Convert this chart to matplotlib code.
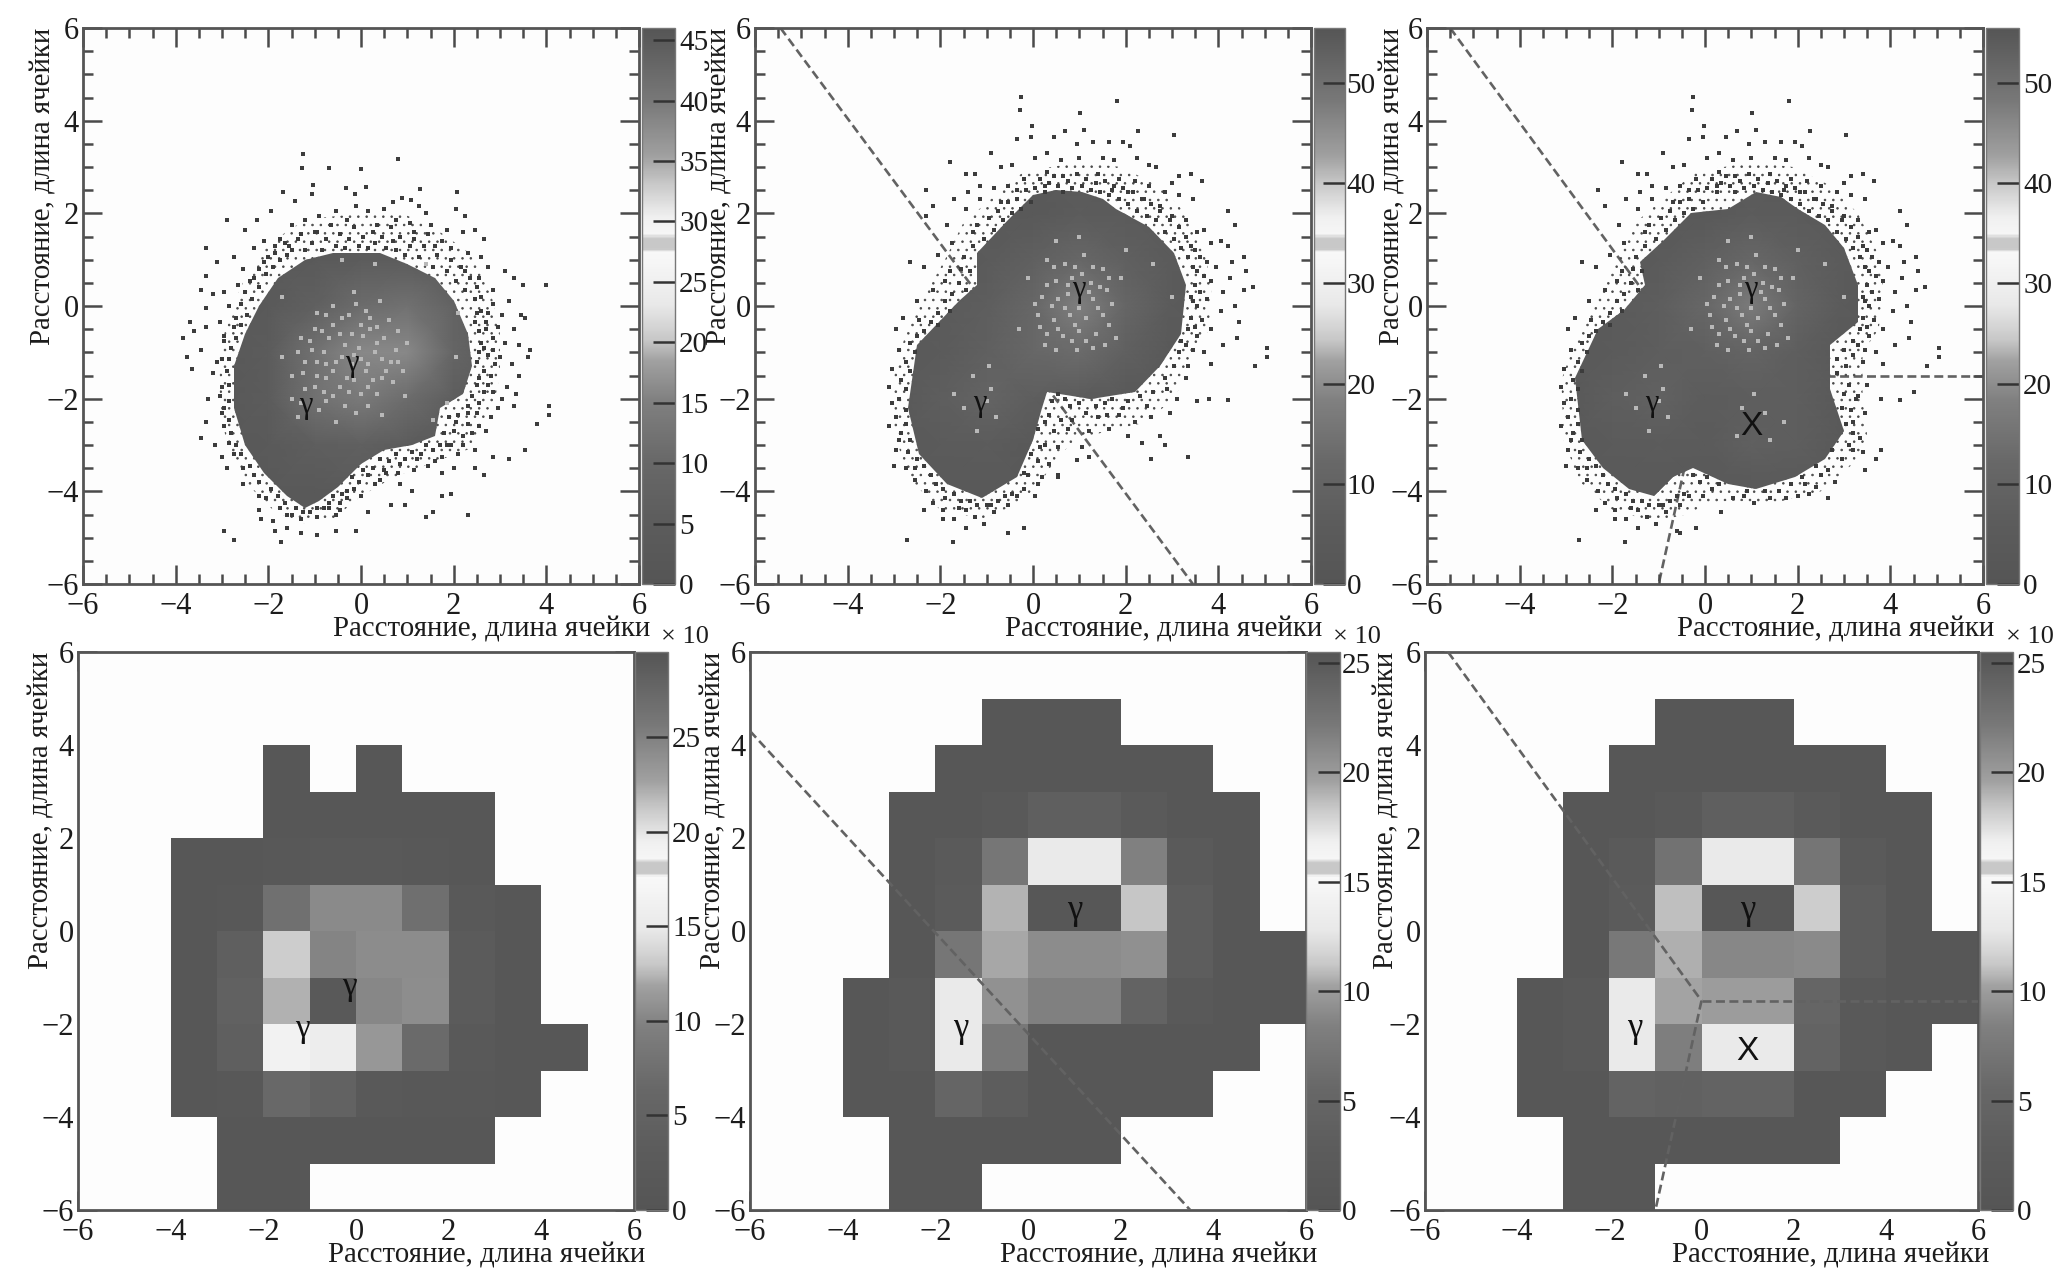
# coding=utf-8
import matplotlib
matplotlib.use("Agg")
import matplotlib.pyplot as plt
from matplotlib.colors import LinearSegmentedColormap
from matplotlib.patches import Polygon
import numpy as np

plt.rcParams['font.family'] = ['Liberation Serif', 'DejaVu Serif']
plt.rcParams['hatch.linewidth'] = 0.6

LABEL = "Расстояние, длина ячейки"

# gray levels of the colour bar
bar_pos = [0, .11, .22, .33, .40, .44, .50, .58, .598, .603, .622, .63, .66, .72, .77, .87, 1]
bar_gray = [0x55, 0x5c, 0x68, 0x80, 0xa0, 0xc8, 0xe8, 0xf6, 0xf8, 0xc8, 0xc8, 0xf6, 0xf0, 0xc8, 0xa0, 0x78, 0x55]
cmap = LinearSegmentedColormap.from_list(
    "bar", [(p, (g / 255, g / 255, g / 255)) for p, g in zip(bar_pos, bar_gray)], N=512)
cmap.set_bad('#fdfdfd')

# ---- top row: coarse tone of the dense part, nodes every 1 cell
tone_x = [-4, -3, -2, -1, 0, 1, 2, 3, 4]
tone_y = [3, 2, 1, 0, -1, -2, -3, -4, -5]
tone1 = [[3, 3, 3, 3, 3, 3, 3, 3, 3],
         [3, 3, 3, 3, 3, 3, 3, 3, 3],
         [3, 3, 3, 4, 5, 5, 4, 3, 3],
         [3, 3, 4, 7, 11, 12, 8, 4, 3],
         [3, 3, 5, 12, 16, 16, 9, 4, 3],
         [3, 3, 5, 12, 14, 11, 6, 3, 3],
         [3, 3, 4, 6, 7, 5, 3, 3, 3],
         [3, 3, 3, 3, 4, 4, 3, 3, 3],
         [3, 3, 3, 3, 3, 3, 3, 3, 3]]
tone2 = [[4, 4, 4, 4, 4, 4, 4, 4, 4],
         [4, 4, 4, 4, 4, 6, 5, 4, 4],
         [4, 4, 4, 5, 8, 12, 8, 5, 4],
         [4, 4, 5, 7, 12, 18, 11, 5, 4],
         [4, 4, 5, 8, 12, 13, 8, 4, 4],
         [4, 4, 7, 10, 7, 5, 4, 4, 4],
         [4, 4, 5, 6, 4, 4, 4, 4, 4],
         [4, 4, 4, 4, 4, 4, 4, 4, 4],
         [4, 4, 4, 4, 4, 4, 4, 4, 4]]
tone3 = [[4, 4, 4, 4, 4, 4, 4, 4, 4],
         [4, 4, 4, 4, 4, 6, 5, 4, 4],
         [4, 4, 4, 5, 8, 12, 8, 5, 4],
         [4, 4, 5, 7, 12, 17, 10, 5, 4],
         [4, 4, 5, 7, 8, 10, 7, 4, 4],
         [4, 4, 7, 9, 6, 7, 7, 4, 4],
         [4, 4, 5, 6, 5, 8, 7, 4, 4],
         [4, 4, 4, 4, 4, 4, 4, 4, 4],
         [4, 4, 4, 4, 4, 4, 4, 4, 4]]

# outline of the dense part
core1 = [(-0.6, 1.15), (0.4, 1.15), (1.0, 0.9), (1.6, 0.6), (2.0, 0.1), (2.3, -0.6), (2.4, -1.3), (2.2, -1.9),
         (1.7, -2.2), (1.6, -2.8), (1.1, -3.0), (0.5, -3.1), (0.0, -3.4), (-0.5, -3.9), (-0.9, -4.2), (-1.2, -4.35),
         (-1.6, -4.1), (-2.1, -3.6), (-2.5, -3.0), (-2.75, -2.2), (-2.75, -1.3), (-2.5, -0.6), (-2.2, 0.0),
         (-1.8, 0.6), (-1.2, 1.0)]
core2 = [(1.05, 2.45), (1.5, 2.3), (1.8, 2.1), (2.5, 1.7), (3.05, 1.15), (3.3, 0.45), (3.2, -0.6), (2.75, -1.3),
         (2.2, -1.85), (1.25, -2.0), (0.3, -1.85), (0.2, -2.2), (0.0, -2.9), (-0.35, -3.7), (-1.1, -4.15),
         (-1.85, -3.85), (-2.45, -3.2), (-2.7, -2.2), (-2.5, -0.85), (-1.6, 0.1), (-1.2, 0.45), (-1.2, 1.15),
         (-0.55, 1.85), (0.0, 2.4), (0.5, 2.5)]
core3 = [(1.1, 2.45), (1.65, 2.35), (2.0, 2.1), (2.6, 1.75), (3.0, 1.25), (3.3, 0.45), (3.3, -0.35), (2.7, -0.85),
         (2.7, -1.8), (3.0, -2.7), (2.6, -3.3), (1.95, -3.7), (1.1, -3.95), (0.5, -3.85), (-0.25, -3.5), (-0.7, -3.7),
         (-1.1, -4.1), (-1.65, -3.95), (-2.2, -3.5), (-2.65, -2.9), (-2.8, -1.55), (-2.3, -0.5), (-1.75, -0.08),
         (-1.3, 0.45), (-1.4, 0.95), (-0.9, 1.4), (-0.3, 2.0), (0.5, 2.1)]

# outline of the band of scattered bins around the dense part
band1 = [(-0.9, 1.9), (0.0, 2.0), (0.9, 2.0), (1.7, 1.6), (2.4, 1.1), (2.8, 0.3), (3.0, -0.6), (3.0, -1.5), (2.8, -2.4),
         (2.3, -3.1), (1.5, -3.4), (0.7, -3.7), (0.0, -4.1), (-0.6, -4.6), (-1.3, -4.7), (-1.9, -4.4), (-2.5, -3.8),
         (-2.9, -3.0), (-3.05, -2.0), (-3.05, -1.0), (-2.85, -0.2), (-2.55, 0.5), (-2.1, 1.2), (-1.5, 1.7)]
band2 = [(1.0, 3.1), (1.9, 3.0), (2.7, 2.6), (3.3, 2.0), (3.7, 1.2), (3.85, 0.4), (3.8, -0.5), (3.4, -1.2), (3.1, -1.9),
         (2.5, -2.5), (1.6, -2.7), (0.9, -2.9), (0.5, -3.3), (0.1, -3.9), (-0.4, -4.3), (-1.1, -4.6), (-2.0, -4.4),
         (-2.7, -3.7), (-3.0, -2.7), (-3.0, -1.5), (-2.75, -0.6), (-2.3, 0.3), (-1.9, 1.0), (-1.5, 1.8), (-0.8, 2.4), (-0.2, 2.9)]
band3 = [(1.0, 3.1), (1.9, 3.0), (2.7, 2.6), (3.3, 2.0), (3.7, 1.2), (3.85, 0.4), (3.75, -0.5), (3.4, -1.0), (3.4, -2.0),
         (3.5, -2.8), (3.2, -3.4), (2.5, -4.0), (1.5, -4.25), (0.5, -4.2), (0.0, -4.3), (-0.4, -4.5), (-1.1, -4.65),
         (-2.0, -4.4), (-2.7, -3.8), (-3.05, -2.9), (-3.1, -1.6), (-2.75, -0.6), (-2.3, 0.3), (-1.9, 1.0), (-1.5, 1.8), (-0.8, 2.4), (-0.2, 2.9)]

# single dark bins outside of the dense part
halo1 = [(-1.25, 3.27), (0.8, 3.18), (0.0, 2.95), (-1.28, 2.97), (-0.7, 2.97), (-1.03, 2.62), (-1.05, 2.42), (-0.33, 2.55),
         (-0.14, 2.42), (0.1, 2.57), (1.27, 2.53), (2.07, 2.46), (-1.68, 2.45), (-1.42, 2.27), (0.88, 2.33), (1.07, 2.29),
         (0.7, 2.25), (-0.1, 2.15), (0.15, 2.05), (0.5, 2.1), (1.25, 2.15), (1.4, 2.0), (2.05, 2.1), (2.25, 1.95), (-0.55, 2.05),
         (-0.9, 1.95), (-1.2, 1.85), (-1.5, 1.75), (-1.95, 2.05), (-2.25, 1.85), (-2.5, 1.65), (-2.9, 1.85), (-0.3, 1.85),
         (0.35, 1.75), (0.75, 1.85), (1.05, 1.8), (1.5, 1.75), (1.85, 1.65), (2.2, 1.6), (2.45, 1.65), (2.65, 1.45),
         (-1.0, 1.6), (-1.3, 1.55), (-1.75, 1.45), (-2.1, 1.4), (-2.3, 1.25), (-3.35, 1.25), (-3.1, 0.95), (-2.75, 1.05),
         (-2.55, 0.8), (-3.35, 0.65), (-3.45, 0.35), (-3.2, 0.25), (-2.95, 0.3), (-2.65, 0.45), (-2.4, 0.55), (-2.1, 0.95),
         (-1.85, 1.15), (-1.55, 1.3), (0.7, 1.4), (1.15, 1.45), (1.6, 1.3), (1.95, 1.25), (2.3, 1.15), (2.6, 1.05), (2.75, 0.85),
         (3.1, 0.75), (3.3, 0.6), (3.5, 0.45), (2.55, 0.6), (2.85, 0.35), (2.25, 0.75), (2.6, 0.2), (2.85, 0.05), (3.2, 0.1),
         (3.45, -0.2), (3.55, -0.25), (3.05, -0.2), (2.7, -0.35), (2.5, -0.15), (3.3, -0.5), (3.4, -0.85), (3.65, -0.95),
         (3.6, -1.1), (3.1, -0.8), (2.85, -0.7), (2.65, -0.9), (2.5, -1.2), (2.9, -1.25), (3.25, -1.25), (3.4, -1.5),
         (3.15, -1.75), (3.35, -1.9), (3.05, -2.0), (2.75, -1.7), (2.55, -1.55), (2.95, -2.2), (3.3, -2.15), (2.8, -2.4), (2.55, -2.1),
         (2.3, -2.3), (2.05, -2.5), (2.7, -2.7), (2.4, -2.75), (2.2, -3.0), (2.45, -3.1), (1.85, -3.0), (1.75, -3.25),
         (2.0, -3.5), (2.45, -3.5), (3.2, -3.3), (3.55, -3.1), (2.85, -3.25), (2.65, -3.65), (3.8, -2.55), (4.05, -2.15), (4.05, -2.35),
         (4.0, 0.45), (1.75, -3.6), (1.45, -3.45), (1.2, -3.3), (0.85, -3.4), (0.55, -3.6), (0.3, -3.85), (0.85, -3.85),
         (1.1, -4.0), (1.75, -4.1), (1.95, -4.05), (1.55, -4.45), (2.3, -4.5), (1.4, -4.55), (0.95, -4.3), (0.65, -4.3),
         (0.15, -4.45), (0.0, -4.1), (-0.3, -4.15), (-0.45, -4.4), (-0.7, -4.35), (-0.95, -4.55), (-1.3, -4.6), (-1.6, -4.5),
         (-2.2, -4.4), (-1.9, -4.65), (-1.85, -4.85), (-1.6, -4.8), (-1.3, -4.9), (-0.95, -4.95), (-0.55, -4.85), (-0.1, -4.85),
         (-2.95, -4.85), (-2.75, -5.05), (-1.73, -5.1), (-2.2, -4.1), (-2.55, -3.85), (-2.15, -4.6), (-2.9, -3.5), (-3.0, -3.25),
         (-3.15, -3.0), (-3.45, -2.85), (-3.35, -2.5), (-3.0, -2.3), (-2.95, -2.6), (-2.85, -2.95), (-3.3, -2.0), (-3.05, -1.95),
         (-3.75, -1.1), (-3.65, -1.35), (-3.45, -0.95), (-3.2, -1.45), (-3.0, -1.15), (-2.95, -0.75), (-3.6, -0.55), (-3.35, -0.45),
         (-3.05, -0.35), (-3.85, -0.7), (-3.7, -0.35), (-2.85, 0.0), (-2.7, -0.25), (-3.35, -0.05)]
rim1 = [(-1.5, 1.2), (-1.35, 1.45), (-1.2, 1.2), (-1.05, 1.35), (-0.95, 1.6), (-0.85, 1.2), (-0.75, 1.45), (-0.65, 1.75), (-0.55, 1.3),
        (-0.45, 1.55), (-0.35, 1.25), (-0.25, 1.45), (-0.15, 1.7), (-0.05, 1.3), (0.05, 1.5), (0.15, 1.25), (0.25, 1.6), (0.3, 1.35),
        (0.45, 1.5), (0.55, 1.25), (0.65, 1.7), (0.75, 1.2), (0.85, 1.5), (0.95, 1.1), (1.05, 1.3), (1.15, 1.6), (1.25, 1.05), (1.35, 1.3),
        (1.45, 1.55), (1.55, 0.85), (1.65, 1.1), (1.75, 1.4), (1.85, 0.75), (1.95, 1.0), (2.05, 0.55), (2.15, 0.85), (2.25, 0.35), (2.35, 0.6),
        (2.45, 0.15), (2.5, 0.4), (2.45, -0.35), (2.55, -0.55), (2.6, -0.1), (2.7, -0.5), (2.75, -0.15), (2.6, -0.8), (2.75, -1.05), (2.55, -1.0),
        (2.85, -0.95), (2.95, -0.45), (3.0, -1.1), (2.65, -1.4), (2.8, -1.5), (2.5, -1.7), (2.65, -1.85), (2.85, -1.85), (2.4, -1.95),
        (2.3, -2.15), (2.5, -2.3), (2.1, -2.35), (2.3, -2.55), (2.55, -2.6), (1.9, -2.4), (2.0, -2.7), (2.2, -2.8), (1.8, -2.75), (1.95, -3.0),
        (2.1, -3.2), (1.7, -3.0), (1.55, -3.1), (1.4, -3.0), (1.6, -3.35), (1.3, -3.2), (1.1, -3.15), (0.95, -3.3), (1.15, -3.55), (0.75, -3.2),
        (0.6, -3.35), (0.8, -3.6), (0.4, -3.3), (0.5, -3.55), (0.25, -3.5), (0.4, -3.75), (0.15, -3.65), (0.05, -3.55), (-0.05, -3.8),
        (-0.2, -3.7), (-0.15, -3.95), (-0.3, -4.0), (-0.4, -4.05), (-0.45, -4.25), (-0.6, -4.1), (-0.7, -4.25), (-0.55, -4.5), (-0.8, -4.35),
        (-0.95, -4.35), (-1.1, -4.45), (-1.25, -4.45), (-1.4, -4.35), (-1.5, -4.5), (-1.65, -4.25), (-1.8, -4.1), (-1.75, -4.35), (-1.95, -3.95),
        (-2.05, -4.15), (-2.2, -3.8), (-2.3, -3.65), (-2.4, -3.45), (-2.55, -3.5), (-2.6, -3.2), (-2.7, -3.0), (-2.75, -3.2), (-2.8, -2.75),
        (-2.85, -2.45), (-2.95, -2.2), (-2.85, -2.05), (-3.0, -1.75), (-2.85, -1.7), (-2.9, -1.4), (-3.1, -1.2), (-2.85, -1.15), (-2.8, -0.9),
        (-2.95, -0.65), (-2.7, -0.7), (-2.6, -0.4), (-2.75, -0.45), (-2.45, -0.2), (-2.6, 0.05), (-2.35, 0.15), (-2.5, 0.3), (-2.2, 0.4),
        (-2.3, 0.6), (-2.05, 0.7), (-2.2, 0.8), (-1.9, 0.85), (-2.0, 1.05), (-1.75, 1.0), (-1.85, 1.3), (-1.6, 1.1), (-1.65, 1.35)]
halo_shared = [(-0.25, 4.52), (1.82, 4.43), (-0.27, 4.22), (1.02, 4.17), (-0.03, 3.88), (2.27, 3.78), (-0.05, 3.65), (-0.35, 3.6),
               (0.45, 3.65), (0.7, 3.78), (1.1, 3.8), (1.3, 3.55), (1.65, 3.55), (1.95, 3.55), (3.05, 3.7), (0.95, 3.5), (2.1, 3.45),
               (0.3, 3.3), (0.05, 3.2), (-0.9, 3.3), (-0.45, 3.05), (-0.7, 3.0), (-1.25, 2.85), (-1.45, 2.85), (-1.8, 3.1), (0.6, 3.15),
               (1.0, 3.2), (1.5, 3.2), (1.75, 3.15), (2.25, 3.2), (2.5, 3.05), (2.65, 3.0), (3.4, 2.85), (3.65, 2.7), (3.15, 2.8), (3.0, 2.65),
               (-0.2, 2.75), (0.3, 2.9), (0.65, 2.8), (1.4, 2.85), (1.85, 2.75), (2.2, 2.7), (2.5, 2.6), (2.85, 2.45), (3.15, 2.4), (3.45, 2.3),
               (-0.55, 2.6), (-0.85, 2.55), (-1.15, 2.6), (-1.4, 2.45), (-1.7, 2.3), (-2.3, 2.5), (-2.15, 2.15), (-1.85, 1.75),
               (-1.45, 2.1), (-1.15, 2.3), (-0.7, 2.25), (-0.35, 2.5), (0.25, 2.6), (1.7, 2.5), (2.05, 2.45), (2.4, 2.3), (2.75, 2.15),
               (3.0, 1.95), (3.3, 1.85), (3.55, 1.6), (3.85, 1.35), (4.2, 2.05), (4.35, 1.75), (4.2, 1.3), (4.05, 1.4), (3.7, 1.65),
               (3.4, 1.3), (3.6, 1.05), (4.55, 1.05), (4.3, 0.95), (3.95, 0.85), (4.6, 0.75), (4.25, 0.6), (3.85, 0.55), (3.55, 0.75), (4.75, 0.4),
               (4.55, 0.35), (4.1, 0.3), (3.75, 0.15), (3.45, 0.1), (4.35, 0.0), (4.05, -0.1), (3.65, -0.3), (4.45, -0.35), (4.4, -0.7),
               (4.1, -0.85), (3.85, -0.5), (3.55, -0.65), (3.3, -0.85), (5.05, -0.9), (5.05, -1.1), (4.8, -1.3), (3.7, -1.0), (3.85, -1.25),
               (-1.75, 1.35), (-2.05, 1.1), (-2.65, 0.95), (-2.35, 0.85), (-1.9, 0.55), (-1.55, 0.8), (-2.15, 0.35), (-2.5, 0.1),
               (-2.8, -0.25), (-2.45, -0.3), (-2.95, -0.5), (-2.9, -0.95), (-3.05, -1.35), (-3.1, -1.75), (-3.05, -2.1), (-3.1, -2.6),
               (-2.9, -2.9), (-2.95, -3.1), (-3.0, -3.45), (-2.75, -3.5), (-2.55, -3.75), (-2.3, -4.0), (-2.15, -4.25), (-2.35, -4.4),
               (-1.95, -4.4), (-1.7, -4.6), (-1.95, -4.6), (-1.45, -4.4), (-1.25, -4.55), (-1.05, -4.7), (-0.85, -4.45), (-0.55, -4.3),
               (-0.55, -4.9), (-0.2, -4.8), (-1.45, -4.8), (-2.73, -5.05), (-1.73, -5.1), (-1.6, -4.35), (-0.9, -4.3), (-0.35, -4.1)]
rim_shared = [(-0.95, 1.9), (-0.85, 1.65), (-0.75, 2.05), (-0.65, 1.85), (-0.55, 2.25), (-0.45, 2.0), (-0.35, 2.3), (-0.25, 2.1), (-0.15, 2.5),
              (-0.05, 2.25), (0.05, 2.55), (0.15, 2.75), (0.25, 2.45), (0.35, 2.65), (0.45, 2.8), (0.55, 2.6), (0.65, 2.45), (0.75, 2.7), (0.85, 2.55),
              (0.95, 2.85), (1.05, 2.6), (1.15, 2.75), (1.25, 2.5), (1.35, 2.65), (1.45, 2.45), (1.55, 2.7), (1.65, 2.4), (1.75, 2.6), (1.85, 2.3),
              (1.95, 2.55), (2.05, 2.2), (2.15, 2.45), (2.25, 2.05), (2.35, 2.3), (2.45, 1.95), (2.55, 2.2), (2.65, 1.85), (2.75, 2.05), (2.85, 1.6),
              (2.95, 1.85), (3.05, 1.45), (3.15, 1.7), (3.2, 1.25), (3.3, 1.5), (3.35, 1.05), (3.45, 0.85), (3.5, 0.45), (3.4, 0.2), (3.55, 0.0),
              (3.4, -0.25), (3.6, 0.3), (3.7, 0.65), (3.75, 0.95), (3.5, 1.2), (3.35, -0.5), (3.5, -0.45), (3.2, -0.75), (3.45, -0.95),
              (-1.3, 1.3), (-1.5, 1.05), (-1.35, 0.75), (-1.6, 0.5), (-1.45, 0.35), (-1.75, 0.25), (-1.9, 0.1), (-1.8, -0.1), (-2.05, -0.15),
              (-2.2, -0.35), (-2.05, -0.4), (-2.35, -0.55), (-2.5, -0.65), (-2.65, -0.8), (-2.55, -1.0), (-2.75, -1.2), (-2.65, -1.4), (-2.85, -1.6),
              (-2.75, -1.8), (-2.9, -2.0), (-2.75, -2.25), (-2.95, -2.4), (-2.75, -2.55), (-2.85, -2.75), (-2.65, -2.9), (-2.7, -3.15), (-2.5, -3.3),
              (-2.55, -3.5), (-2.35, -3.45), (-2.2, -3.65), (-2.1, -3.85), (-1.95, -3.95), (-1.9, -4.15), (-1.7, -4.05), (-1.55, -4.2), (-1.35, -4.2),
              (-1.2, -4.3), (-1.0, -4.3), (-0.75, -4.2), (-0.6, -4.1), (-0.45, -4.05), (-1.8, 0.75), (-1.2, 1.75), (-1.05, 1.45), (-1.3, 1.6)]
halo2 = [(-2.3, 1.95), (0.55, -1.9), (0.8, -2.15), (1.15, -2.3), (1.55, -2.1), (2.05, -2.05), (2.45, -2.15), (2.9, -1.8), (3.3, -1.55),
         (3.35, -1.3), (4.2, -2.03), (3.8, -2.0), (3.55, -2.05), (3.1, -2.0), (2.55, -2.4), (2.2, -2.5), (1.85, -2.35), (1.4, -2.4),
         (0.85, -2.45), (0.35, -2.35), (0.1, -2.65), (0.45, -2.7), (0.75, -2.65), (1.2, -2.7), (1.65, -2.65), (2.05, -2.8), (2.75, -2.8),
         (2.35, -2.95), (0.25, -3.0), (0.55, -3.05), (1.05, -3.05), (2.85, -3.0), (2.55, -3.3), (3.35, -3.25), (0.95, -3.32),
         (1.2, -3.25), (0.1, -3.35), (0.2, -3.7), (0.55, -3.7), (-0.2, -3.95), (0.05, -4.1), (0.1, -3.85), (0.55, -3.65), (-0.1, -3.65),
         (0.4, -2.05), (0.7, -2.0), (1.0, -2.1), (1.35, -2.15), (1.7, -2.0), (1.95, -2.2), (2.3, -1.95), (2.6, -1.85), (2.85, -1.55),
         (3.05, -1.3), (3.15, -1.0), (2.95, -2.3), (0.25, -2.5), (0.15, -3.05), (0.35, -3.4), (-0.05, -3.2), (-0.2, -3.6), (0.6, -2.45), (1.6, -2.35)]
halo3 = [(3.5, -1.7), (3.8, -2.0), (4.2, -2.03), (4.5, -1.85), (3.3, -1.95), (3.45, -2.3), (3.2, -2.5), (3.35, -2.85), (3.2, -3.1),
         (3.4, -3.15), (3.8, -3.1), (3.7, -3.3), (3.45, -3.55), (3.1, -3.0), (2.95, -3.3), (2.65, -3.55), (2.8, -3.8), (2.5, -3.65), (2.15, -3.85),
         (2.0, -4.1), (2.25, -4.05), (2.65, -4.15), (1.6, -4.0), (1.75, -4.15), (1.05, -4.25), (0.6, -4.15), (0.35, -4.45), (0.15, -3.95),
         (0.85, -4.1), (-0.1, -3.8), (-0.05, -4.1), (-0.55, -4.9), (-0.6, -4.85), (3.05, -1.3), (3.2, -1.05), (3.0, -0.95), (2.85, -1.15),
         (3.4, -1.2), (3.1, -1.7), (1.4, -4.15), (2.4, -3.9), (3.25, -2.0), (2.85, -1.45), (3.0, -1.9), (2.95, -2.2), (3.15, -2.25), (3.05, -2.55),
         (3.2, -2.75), (2.75, -3.1), (2.4, -3.45), (2.1, -3.7), (1.85, -3.85), (1.3, -4.0), (0.9, -4.0), (0.3, -3.85), (0.05, -3.7), (-0.25, -3.65)]

# light bins inside of the dense part
speck1 = [(-1.3, -0.7), (-1.0, -0.5), (-0.6, -0.4), (-0.2, -0.6), (0.2, -0.5), (0.5, -0.7), (-1.2, -1.2), (-0.8, -1.0), (-0.4, -1.1), (-0.05, -0.9),
          (0.3, -1.0), (0.65, -1.2), (-1.5, -1.5), (-0.95, -1.5), (-0.6, -1.4), (-0.3, -1.55), (0.1, -1.4), (0.45, -1.55), (0.9, -1.4), (-1.2, -1.8),
          (-0.8, -1.85), (-0.45, -1.75), (0.0, -1.9), (-1.5, -2.0), (0.35, -1.9), (-0.25, -0.2), (0.1, -0.1), (-0.6, 0.0), (-0.95, -0.15), (0.4, 0.1),
          (-0.15, 0.3), (0.6, -0.3), (1.0, -0.8), (-1.7, -1.1), (-1.35, -2.4), (-0.9, -2.25), (-0.55, -2.5), (-0.1, -2.3), (0.45, -2.35), (0.95, -1.95),
          (-0.2, -1.25), (0.2, -0.25), (-0.7, -0.7), (-1.05, -0.95), (0.8, -0.55), (-0.35, -0.85), (0.0, -1.15), (-0.75, -1.25), (-1.35, -1.0), (0.55, -1.4),
          (1.4, 0.9), (2.05, -1.1), (1.85, -2.1), (1.55, -2.45), (-0.4, 1.0), (0.3, 0.9), (-1.7, 0.2), (2.1, -0.15),
          (-1.1, -0.75), (-0.85, -0.55), (-0.45, -0.6), (0.05, -0.65), (0.35, -0.8), (0.75, -0.95), (-0.95, -1.2), (-0.55, -1.2), (-0.15, -1.05), (0.15, -1.25),
          (0.45, -1.15), (0.8, -1.2), (-1.25, -1.45), (-0.75, -1.55), (-0.15, -1.6), (0.25, -1.6), (0.7, -1.65), (-1.0, -1.75), (-0.6, -1.95), (-0.25, -1.85),
          (0.15, -1.75), (-1.3, -2.1), (-0.75, -2.05), (-0.35, -2.15), (0.15, -2.15), (0.0, -0.4), (-0.4, -0.25), (0.35, -0.45), (-0.75, -0.2), (-0.1, 0.05)]
speck2 = [(0.3, 1.0), (0.7, 0.9), (1.1, 1.1), (1.5, 0.8), (0.5, 0.55), (0.85, 0.6), (1.25, 0.5), (1.6, 0.35), (0.2, 0.2), (0.55, 0.15), (1.3, 0.15), (1.7, 0.05),
          (0.1, -0.2), (0.45, -0.3), (0.8, -0.2), (1.15, -0.25), (1.5, -0.2), (0.3, -0.6), (0.65, -0.65), (1.0, -0.55), (1.35, -0.6), (0.5, -0.95), (0.95, -0.95),
          (1.3, -0.9), (0.75, 0.25), (1.05, 0.7), (0.9, -0.4), (1.9, 0.6), (-0.1, 0.6), (1.0, 1.5), (0.5, 1.4), (2.0, 1.2), (2.6, 0.9), (3.0, 0.2), (-0.3, -0.5), (1.8, -0.7),
          (0.45, 0.85), (0.9, 0.85), (1.3, 0.85), (1.65, 0.6), (0.3, 0.45), (1.45, 0.4), (0.4, 0.0), (0.7, -0.05), (1.0, -0.05), (1.4, -0.05), (1.65, -0.4), (0.15, -0.45),
          (0.55, -0.5), (0.85, -0.75), (1.15, -0.75), (0.75, 0.45), (1.2, 0.3), (0.05, 0.05), (0.25, -0.85), (1.55, -0.85)]
speck_shared = [(-1.3, -1.5), (-0.9, -1.8), (-1.5, -2.2), (-0.8, -2.4), (-1.2, -2.7), (-1.7, -1.9), (-0.95, -1.3), (-1.0, -2.05)]
speck3 = [(0.8, -2.2), (1.3, -2.3), (0.7, -2.8), (1.4, -2.9), (1.05, -1.9), (1.7, -2.5)]

# ---- bottom row: counts in cells of one unit, rows from y=5..6 down to y=-6..-5, columns from x=-6..-5
grid4 = [[0, 0, 0, 0, 0, 0, 0, 0, 0, 0, 0, 0],
         [0, 0, 0, 0, 0, 0, 0, 0, 0, 0, 0, 0],
         [0, 0, 0, 0, 1, 0, 1, 0, 0, 0, 0, 0],
         [0, 0, 0, 0, 1, 1, 1, 1, 1, 0, 0, 0],
         [0, 0, 1, 1, 1.5, 2, 2, 1.5, 1, 0, 0, 0],
         [0, 0, 1, 1.5, 7.6, 10.4, 10.4, 7.4, 2, 1, 0, 0],
         [0, 0, 1, 4, 13.3, 10, 10.5, 10.5, 3, 1, 0, 0],
         [0, 0, 1, 4.5, 12.3, 29, 10.2, 10.6, 3, 1, 0, 0],
         [0, 0, 1, 4, 16.5, 15.5, 11.2, 6.8, 2, 1, 1, 0],
         [0, 0, 1, 1.5, 6.5, 5, 2, 1.5, 1.5, 1, 0, 0],
         [0, 0, 0, 1, 1, 1, 1, 1, 1, 0, 0, 0],
         [0, 0, 0, 1, 1, 0, 0, 0, 0, 0, 0, 0]]
grid5 = [[0, 0, 0, 0, 0, 0, 0, 0, 0, 0, 0, 0],
         [0, 0, 0, 0, 0, 1, 1, 1, 0, 0, 0, 0],
         [0, 0, 0, 0, 1, 1, 1, 1, 1, 1, 0, 0],
         [0, 0, 0, 1, 1, 1.8, 3.5, 3.5, 2, 1, 1, 0],
         [0, 0, 0, 1, 2, 7.3, 13, 13, 8.4, 2, 1, 0],
         [0, 0, 0, 1, 2.5, 10.7, 25.3, 25.3, 11.2, 3, 1, 0],
         [0, 0, 0, 1, 7.3, 10.4, 9.1, 9.1, 9.3, 3, 1, 1],
         [0, 0, 1, 1.5, 13, 9.4, 8.4, 8.4, 4.5, 1.5, 1, 1],
         [0, 0, 1, 1.5, 13, 7.5, 1, 1, 1, 1, 1, 0],
         [0, 0, 1, 1, 5, 3, 1, 1, 1, 1, 0, 0],
         [0, 0, 0, 1, 1, 1, 1, 1, 0, 0, 0, 0],
         [0, 0, 0, 1, 1, 0, 0, 0, 0, 0, 0, 0]]
grid6 = [[0, 0, 0, 0, 0, 0, 0, 0, 0, 0, 0, 0],
         [0, 0, 0, 0, 0, 1, 1, 1, 0, 0, 0, 0],
         [0, 0, 0, 0, 1, 1, 1, 1, 1, 1, 0, 0],
         [0, 0, 0, 1, 1, 1.8, 3.5, 3.5, 2, 1, 1, 0],
         [0, 0, 0, 1, 2, 6.8, 13, 13, 7.2, 2, 1, 0],
         [0, 0, 0, 1, 2.5, 11, 25.3, 25.3, 11.5, 3, 1, 0],
         [0, 0, 0, 1, 7.5, 10.6, 8.8, 8.8, 9, 3, 1, 1],
         [0, 0, 1, 1.5, 13, 10.3, 10, 10, 5, 1.5, 1, 1],
         [0, 0, 1, 1.5, 13, 8.2, 13, 13, 4.5, 1.5, 1, 0],
         [0, 0, 1, 1, 4.5, 4, 4.5, 4.5, 1, 1, 0, 0],
         [0, 0, 0, 1, 1, 1, 1, 1, 1, 0, 0, 0],
         [0, 0, 0, 1, 1, 0, 0, 0, 0, 0, 0, 0]]

# dashed borders
border2_x, border2_y = [-5.45, 3.45], [6, -6]
border3 = [[(-5.5, 6), (0, -1.5)], [(0, -1.5), (6, -1.5)], [(0, -1.5), (-1, -6)]]
border5_x, border5_y = [-6, 3.5], [4.3, -6]

W, H = 2067, 1276
fig = plt.figure(figsize=(W / 100, H / 100), dpi=100, facecolor='white')
DARK = '#4a4a4a'
TEXT = '#1c1c1c'


def make_axes(left, right, top, bottom, bar_left, bar_right, ylabel_x):
    ax = fig.add_axes([left / W, 1 - bottom / H, (right - left) / W, (bottom - top) / H])
    cax = fig.add_axes([bar_left / W, 1 - bottom / H, (bar_right - bar_left) / W, (bottom - top) / H])
    ax.set_facecolor('#fdfdfd')
    ax.set_xlim(-6, 6)
    ax.set_ylim(-6, 6)
    ax.set_xticks(range(-6, 7, 2))
    ax.set_yticks(range(-6, 7, 2))
    ax.set_xticks(np.arange(-6, 6.1, 0.5), minor=True)
    ax.set_yticks(np.arange(-6, 6.1, 0.5), minor=True)
    ax.tick_params(which='major', direction='in', length=14, width=1.8, color=DARK, top=True, right=True,
                   labelsize=22, labelcolor=TEXT, pad=6)
    ax.tick_params(axis='y', which='major', pad=3)
    ax.tick_params(which='minor', direction='in', length=7, width=1.8, color=DARK, top=True, right=True)
    for s in ax.spines.values():
        s.set_linewidth(2)
        s.set_color('#555555')
    ax.set_xlabel(LABEL, fontsize=20.8, color=TEXT)
    ax.set_ylabel(LABEL, fontsize=20.8, color=TEXT, y=1.0, ha='right')
    ax.xaxis.set_label_coords(1.02, -0.082)
    ax.xaxis.label.set_ha('right')
    ax.xaxis.label.set_va('center')
    ax.yaxis.set_label_coords(ylabel_x, 1.0)
    ax.yaxis.label.set_va('center')
    return ax, cax


def finish_bar(mesh, cax, bar_ticks, bar_pad):
    cb = fig.colorbar(mesh, cax=cax)
    cb.set_ticks(bar_ticks)
    cb.outline.set_edgecolor('#777777')
    cb.outline.set_linewidth(1)
    cax.tick_params(direction='in', length=16, width=1.8, color='#333333', labelsize=21, labelcolor=TEXT, pad=bar_pad)


def top_panel(rect, tone, core, band, halos, specks, vmax, bar_ticks, bar_pad):
    ax, cax = make_axes(*rect)
    ax.add_patch(Polygon(band, closed=True, facecolor='none', edgecolor='#4a4a4a', hatch='..', linewidth=0, zorder=1.5))
    mesh = ax.pcolormesh(tone_x, tone_y, tone, shading='gouraud', cmap=cmap, vmin=0, vmax=vmax, zorder=2)
    outline = Polygon(core, closed=True, transform=ax.transData)
    mesh.set_clip_path(outline)
    hx = [p[0] for p in halos]
    hy = [p[1] for p in halos]
    ax.scatter(hx, hy, marker='s', s=8, color='#3c3c3c', linewidths=0, zorder=3)
    sx = [p[0] for p in specks]
    sy = [p[1] for p in specks]
    ax.scatter(sx, sy, marker='s', s=6, color='#b8b8b8', linewidths=0, zorder=3)
    finish_bar(mesh, cax, bar_ticks, bar_pad)
    return ax


def bottom_panel(rect, grid, vmax, bar_ticks, bar_pad):
    ax, cax = make_axes(*rect)
    edges = np.arange(-6, 7)
    values = np.ma.masked_equal(np.array(grid)[::-1], 0)
    mesh = ax.pcolormesh(edges, edges, values, cmap=cmap, vmin=0, vmax=vmax, zorder=2)
    finish_bar(mesh, cax, bar_ticks, bar_pad)
    cax.text(0.78, 1.026, '× 10', transform=cax.transAxes, ha='left', va='center', fontsize=19, color=TEXT)
    return ax


def gamma(ax, x, y, size=25):
    ax.text(x, y, 'γ', fontsize=size, ha='center', va='center', color='#111111', zorder=6)


def cross(ax, x, y):
    ax.text(x, y, 'X', fontsize=24, ha='center', va='center', color='#111111', zorder=6, family='Liberation Sans')


def dashed(ax, xs, ys, z=5):
    ax.plot(xs, ys, ls=(0, (3.4, 1.7)), lw=1.9, color='#626262', zorder=z)


ax1 = top_panel((83, 639, 28, 584, 642, 675, -0.071), tone1, core1, band1, halo1 + rim1, speck1, 46, range(0, 46, 5), 3)
gamma(ax1, -1.2, -2.15, 22)
gamma(ax1, -0.2, -1.25, 22)

ax2 = top_panel((755, 1311, 28, 584, 1314, 1345, -0.064), tone2, core2, band2, halo_shared + rim_shared + halo2,
                speck2 + speck_shared, 55.5, range(0, 51, 10), 1)
dashed(ax2, border2_x, border2_y, z=1)
gamma(ax2, -1.15, -2.1, 22)
gamma(ax2, 1.0, 0.35, 22)

ax3 = top_panel((1427, 1983, 28, 584, 1986, 2019, -0.062), tone3, core3, band3, halo_shared + rim_shared + halo3,
                speck2 + speck_shared + speck3, 55.5, range(0, 51, 10), 3)
for seg in border3:
    dashed(ax3, [seg[0][0], seg[1][0]], [seg[0][1], seg[1][1]], z=1)
gamma(ax3, -1.15, -2.1, 22)
gamma(ax3, 1.0, 0.35, 22)
cross(ax3, 1.0, -2.6)

ax4 = bottom_panel((78, 634, 652, 1210, 635, 668, -0.066), grid4, 29.5, range(0, 26, 5), 3)
gamma(ax4, -1.15, -2.1, 24)
gamma(ax4, -0.15, -1.2, 24)

ax5 = bottom_panel((750, 1306, 652, 1210, 1306, 1340, -0.066), grid5, 25.5, range(0, 26, 5), 1)
dashed(ax5, border5_x, border5_y)
gamma(ax5, -1.45, -2.1)
gamma(ax5, 1.0, 0.45)

ax6 = bottom_panel((1425, 1978, 652, 1210, 1980, 2013, -0.069), grid6, 25.5, range(0, 26, 5), 3)
for seg in border3:
    dashed(ax6, [seg[0][0], seg[1][0]], [seg[0][1], seg[1][1]])
gamma(ax6, -1.45, -2.1)
gamma(ax6, 1.0, 0.45)
cross(ax6, 1.0, -2.6)

fig.savefig('out.png', dpi=100)
